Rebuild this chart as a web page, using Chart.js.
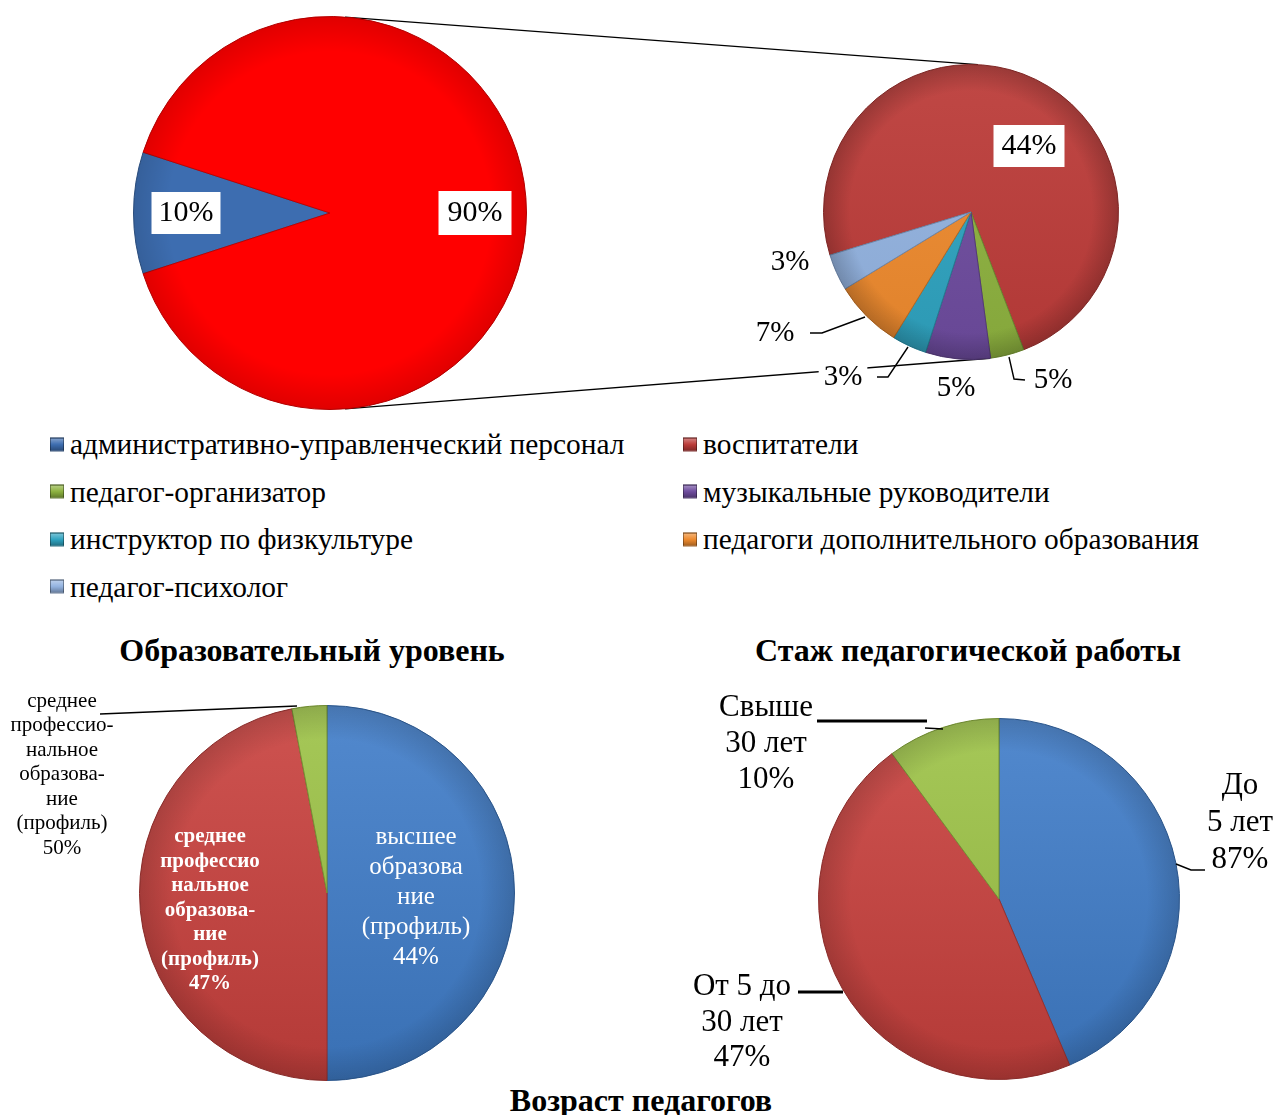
<!DOCTYPE html>
<html lang="ru">
<head>
<meta charset="utf-8">
<title>Педагогический состав</title>
<script src="https://cdn.jsdelivr.net/npm/chart.js@4.4.1/dist/chart.umd.min.js"></script>
<style>
  html, body { margin: 0; padding: 0; background: #fff; }
  body {
    width: 1277px; height: 1115px; position: relative; overflow: hidden;
    font-family: "Liberation Serif", "Times New Roman", serif; color: #000;
  }
  canvas { position: absolute; }
  #links { z-index: 0; }
  .chart { z-index: 1; }
  .title {
    position: absolute; transform: translate(-50%, -50%);
    font-weight: bold; font-size: 32px; white-space: nowrap;
  }
  .legend-item {
    position: absolute; font-size: 29.4px; white-space: nowrap;
    transform: translateY(-50%); display: flex; align-items: center;
  }
  .legend-item i {
    display: inline-block; width: 14px; height: 14px; margin-right: 6px;
    box-sizing: border-box; border: 1px solid rgba(0,0,0,0.35);
  }
</style>
</head>
<body>
<canvas id="links" width="1277" height="425" style="left:0;top:0"></canvas>
<canvas id="staffChart" class="chart" width="640" height="425" style="left:0;top:0"></canvas>
<canvas id="teacherChart" class="chart" width="637" height="425" style="left:640px;top:0"></canvas>
<div id="legend"></div>

<div class="title" style="left:312px;top:650px">Образовательный уровень</div>
<div class="title" style="left:968px;top:650px">Стаж педагогической работы</div>
<canvas id="eduChart" class="chart" width="625" height="400" style="left:0;top:690px"></canvas>
<canvas id="expChart" class="chart" width="637" height="420" style="left:640px;top:680px"></canvas>
<div class="title" style="left:641px;top:1100px">Возраст педагогов</div>

<script>
// Персонал: АУП и педагогические работники
const staffGroups = ["административно-управленческий персонал", "педагогические работники"];
const staffValues = [10, 90];
const staffPct = ["10%", "90%"];

// Состав педагогических работников (вторичная диаграмма)
const teacherLabels = [
    "воспитатели",
    "педагог-организатор",
    "музыкальные руководители",
    "инструктор по физкультуре",
    "педагоги дополнительного образования",
    "педагог-психолог"
];
const teacherValues = [73.9, 3.7, 7.1, 3.8, 7.5, 4.0];
const teacherPct = ["44%", "5%", "5%", "3%", "7%", "3%"];

// Образовательный уровень
const eduLabels = [
    "высшее образование (профиль)",
    "среднее профессиональное образование (профиль)",
    "среднее профессиональное образование (профиль)"
];
const eduValues = [50, 47, 3];
const eduPct = ["44%", "47%", "50%"];

// Стаж педагогической работы
const expLabels = ["До 5 лет", "От 5 до 30 лет", "Свыше 30 лет"];
const expValues = [43.6, 46.3, 10.1];
const expPct = ["87%", "47%", "10%"];

// Colors
const staffColors = ["#3D6DB0", "#FF0000"];
const teacherColors = ["#BC3C39", "#8DB23F", "#6E4C9E", "#2FA3C0", "#EE8A2E", "#93B3E0"];
const eduColors = ["#3F7CC8", "#C8403D", "#9CC245"];
const expColors = ["#3F7CC8", "#C8403D", "#9CC245"];

const FONT = '"Liberation Serif", "Times New Roman", serif';

function shade(hex, amt) {
    const n = parseInt(hex.slice(1), 16);
    let r = (n >> 16) & 255, g = (n >> 8) & 255, b = n & 255;
    const f = (v) => Math.round(amt >= 0 ? v + (255 - v) * amt : v * (1 + amt));
    return `rgb(${f(r)},${f(g)},${f(b)})`;
}

// vertical gradient per slice, lighter on top
function sliceFill(colors, amt) {
    return (ctx) => {
        const base = colors[ctx.dataIndex];
        const area = ctx.chart.chartArea;
        if (!area || amt === 0) return base;
        const g = ctx.chart.ctx.createLinearGradient(0, area.top, 0, area.bottom);
        g.addColorStop(0, shade(base, amt));
        g.addColorStop(1, shade(base, -amt));
        return g;
    };
}

// darker rim to imitate the bevel
const bevel = {
    id: "bevel",
    afterDatasetsDraw(chart, args, opts) {
        const arc = chart.getDatasetMeta(0).data[0];
        if (!arc) return;
        const { x, y, outerRadius: r } = arc;
        const c = chart.ctx;
        const g = c.createRadialGradient(x, y, r * 0.82, x, y, r);
        g.addColorStop(0, "rgba(0,0,0,0)");
        g.addColorStop(1, `rgba(0,0,0,${opts.rim || 0.15})`);
        c.save();
        c.beginPath();
        c.arc(x, y, r, 0, Math.PI * 2);
        c.fillStyle = g;
        c.fill();
        c.restore();
    }
};

// data labels, positioned relative to the pie centre
const sliceLabels = {
    id: "sliceLabels",
    afterDraw(chart, args, opts) {
        const arc = chart.getDatasetMeta(0).data[0];
        if (!arc) return;
        const cx = arc.x, cy = arc.y;
        const c = chart.ctx;
        (opts.items || []).forEach((it) => {
            c.save();
            if (it.leader) {
                c.beginPath();
                c.lineWidth = it.leaderWidth || 1.4;
                c.strokeStyle = "#000";
                it.leader.forEach(([lx, ly], k) => k ? c.lineTo(cx + lx, cy + ly) : c.moveTo(cx + lx, cy + ly));
                c.stroke();
            }
            if (it.leader2) {
                c.beginPath();
                c.lineWidth = 1.4;
                it.leader2.forEach(([lx, ly], k) => k ? c.lineTo(cx + lx, cy + ly) : c.moveTo(cx + lx, cy + ly));
                c.stroke();
            }
            c.font = `${it.bold ? "bold " : ""}${it.size}px ${FONT}`;
            const x = cx + it.dx, y0 = cy + it.dy;
            const lh = it.lineHeight || it.size * 1.2;
            if (it.box) {
                const w = Math.max(...it.lines.map((l) => c.measureText(l).width)) + 2 * it.box[0];
                const h = lh * (it.lines.length - 1) + it.size + 2 * it.box[1];
                c.fillStyle = "#fff";
                c.fillRect(x - w / 2, y0 - it.size / 2 - it.box[1], w, h);
            }
            c.fillStyle = it.color || "#000";
            c.textAlign = "center";
            c.textBaseline = "middle";
            it.lines.forEach((l, k) => c.fillText(l, x, y0 + k * lh));
            c.restore();
        });
    }
};

function pieOptions(pad, rotation, items, rim) {
    return {
        responsive: false,
        animation: false,
        events: [],
        rotation: rotation,
        layout: { padding: pad },
        plugins: {
            legend: { display: false },
            tooltip: { enabled: false },
            bevel: { rim: rim },
            sliceLabels: { items: items }
        }
    };
}

function pieData(labels, values, colors, amt) {
    return {
        labels: labels,
        datasets: [{
            data: values,
            backgroundColor: sliceFill(colors, amt),
            borderColor: colors.map((c) => shade(c, -0.25)),
            borderWidth: 1,
            hoverOffset: 0
        }]
    };
}

// Top left pie
const staffChart = new Chart(document.getElementById("staffChart"), {
    type: "pie",
    data: pieData(staffGroups, staffValues, staffColors, 0),
    options: pieOptions({ left: 133, right: 113, top: 16, bottom: 15 }, 252, [
        { lines: [staffPct[0]], dx: -144, dy: 0, size: 30, box: [7, 6] },
        { lines: [staffPct[1]], dx: 145, dy: 0, size: 30, box: [9, 7] }
    ], 0.12),
    plugins: [bevel, sliceLabels]
});

// Top right pie (breakdown)
const teacherChart = new Chart(document.getElementById("teacherChart"), {
    type: "pie",
    data: pieData(teacherLabels, teacherValues, teacherColors, 0.06),
    options: pieOptions({ left: 183, right: 158, top: 64, bottom: 65 }, 253, [
        { lines: [teacherPct[0]], dx: 58, dy: -66, size: 30, box: [8, 6] },
        { lines: [teacherPct[5]], dx: -181, dy: 50, size: 29 },
        { lines: [teacherPct[4]], dx: -196, dy: 121, size: 29,
          leader: [[-161, 121], [-149, 121], [-106, 105]] },
        { lines: [teacherPct[3]], dx: -128, dy: 165, size: 29, box: [5, 2],
          leader: [[-94, 165], [-83, 165], [-63, 135]] },
        { lines: [teacherPct[2]], dx: -15, dy: 176, size: 29 },
        { lines: [teacherPct[1]], dx: 82, dy: 168, size: 29,
          leader: [[38, 145], [43, 167], [54, 168]] }
    ], 0.2),
    plugins: [bevel, sliceLabels]
});

// Connector lines between the two top pies
(function drawLinks() {
    const a = staffChart.getDatasetMeta(0).data[0];
    const b = teacherChart.getDatasetMeta(0).data[0];
    const offB = 640;
    const pt = (arc, deg, off) => {
        const t = deg * Math.PI / 180;
        return [off + arc.x + arc.outerRadius * Math.sin(t), arc.y - arc.outerRadius * Math.cos(t)];
    };
    const c = document.getElementById("links").getContext("2d");
    c.strokeStyle = "#000";
    c.lineWidth = 1.4;
    [[4.4, 2.7], [175.6, 172.5]].forEach(([da, db]) => {
        const p = pt(a, da, 0), q = pt(b, db, offB);
        c.beginPath();
        c.moveTo(p[0], p[1]);
        c.lineTo(q[0], q[1]);
        c.stroke();
    });
})();

// Legend (two columns)
(function buildLegend() {
    const names = [staffGroups[0]].concat(teacherLabels);
    const colors = [staffColors[0]].concat(teacherColors);
    const host = document.getElementById("legend");
    names.forEach((name, i) => {
        const col = i % 2, row = Math.floor(i / 2);
        const el = document.createElement("div");
        el.className = "legend-item";
        el.style.left = (col ? 683 : 50) + "px";
        el.style.top = (444 + row * 47.5) + "px";
        const sw = document.createElement("i");
        const base = colors[i];
        sw.style.background = `linear-gradient(${shade(base, 0.35)}, ${base} 50%, ${shade(base, -0.3)})`;
        el.appendChild(sw);
        el.appendChild(document.createTextNode(name));
        host.appendChild(el);
    });
})();

// Bottom left: education level
new Chart(document.getElementById("eduChart"), {
    type: "pie",
    data: pieData(eduLabels, eduValues, eduColors, 0.1),
    options: pieOptions({ left: 139, right: 110, top: 15, bottom: 9 }, 0, [
        { lines: ["среднее", "профессио-", "нальное", "образова-", "ние", "(профиль)", eduPct[2]],
          dx: -265, dy: -192, size: 21, lineHeight: 24.5,
          leader: [[-227, -179], [-30, -187]] },
        { lines: ["среднее", "профессио", "нальное", "образова-", "ние", "(профиль)", eduPct[1]],
          dx: -117, dy: -56, size: 21, lineHeight: 24.5, bold: true, color: "#fff" },
        { lines: ["высшее", "образова", "ние", "(профиль)", eduPct[0]],
          dx: 89, dy: -56, size: 25, lineHeight: 30, color: "#fff" }
    ], 0.15),
    plugins: [bevel, sliceLabels]
});

// Bottom right: teaching experience
new Chart(document.getElementById("expChart"), {
    type: "pie",
    data: pieData(expLabels, expValues, expColors, 0.1),
    options: pieOptions({ left: 178, right: 97, top: 38, bottom: 20 }, 0, [
        { lines: ["Свыше", "30 лет", expPct[2]], dx: -233, dy: -191, size: 31, lineHeight: 36,
          leader: [[-182, -178], [-72, -178]], leaderWidth: 3,
          leader2: [[-74, -171], [-56, -170]] },
        { lines: ["До", "5 лет", expPct[0]], dx: 241, dy: -113, size: 31, lineHeight: 37,
          leader: [[177, -35], [192, -29], [206, -29]] },
        { lines: ["От 5 до", "30 лет", expPct[1]], dx: -257, dy: 88, size: 31, lineHeight: 35.5,
          leader: [[-201, 93], [-156, 93]], leaderWidth: 3 }
    ], 0.15),
    plugins: [bevel, sliceLabels]
});
</script>
</body>
</html>
